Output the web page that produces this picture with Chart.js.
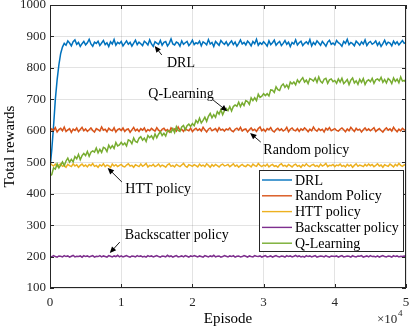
<!DOCTYPE html>
<html lang="en">
<head>
<meta charset="UTF-8">
<title>Total rewards vs Episode</title>
<script src="https://cdn.jsdelivr.net/npm/chart.js"></script>
<style>
  html, body { margin: 0; padding: 0; background: #fff; }
  #chart { display: block; }
</style>
</head>
<body>
<canvas id="chart" width="409" height="327"></canvas>
<script>
// episodes sampled every 250, x axis shown in units of 10^4
var episodeStep = 250;
var xTicks = [0, 1, 2, 3, 4, 5];
var yTicks = [100, 200, 300, 400, 500, 600, 700, 800, 900, 1000];

var seriesNames = ["DRL", "Random Policy", "HTT policy", "Backscatter policy", "Q-Learning"];
var seriesColors = ["#0072BD", "#D95319", "#EDB120", "#7E2F8E", "#77AC30"];

var drl = [
  480, 540, 615, 700, 762, 810, 846, 866, 878, 872, 886, 879, 870, 883, 889, 875, 881, 868, 877, 884,
  873, 880, 891, 876, 869, 882, 878, 885, 871, 879, 887, 874, 880, 868, 883, 876, 890, 872, 881, 877,
  884, 870, 878, 886, 875, 881, 869, 879, 888, 874, 882, 877, 871, 885, 880, 873, 889, 876, 868, 883,
  879, 875, 887, 872, 881, 884, 870, 878, 892, 876, 873, 882, 879, 869, 886, 875, 880, 884, 871, 878,
  888, 874, 880, 877, 885, 870, 883, 879, 873, 890, 876, 881, 868, 884, 878, 872, 887, 880, 875, 883,
  871, 879, 886, 874, 882, 869, 878, 889, 876, 881, 873, 885, 879, 870, 884, 877, 891, 872, 880, 875,
  883, 877, 869, 886, 874, 880, 888, 872, 879, 884, 871, 878, 887, 875, 882, 868, 881, 876, 889, 873,
  880, 885, 871, 878, 883, 876, 890, 870, 881, 874, 886, 879, 872, 884, 877, 869, 882, 888, 875, 879,
  873, 887, 880, 876, 869, 884, 878, 891, 874, 881, 877, 870, 885, 879, 872, 883, 876, 889, 871, 880,
  884, 875, 879, 886, 872, 881, 868, 877, 888, 874, 882, 879, 870, 885, 876, 883, 873, 880, 887, 878,
  881
];
var randomPolicy = [
  599, 606, 601, 610, 596, 604, 608, 600, 612, 598, 603, 607, 595, 605, 601, 609, 597, 604, 611, 600,
  606, 598, 603, 609, 601, 596, 607, 604, 599, 612, 602, 605, 597, 608, 603, 600, 610, 596, 604, 607,
  601, 609, 598, 604, 606, 595, 603, 611, 600, 605, 598, 607, 602, 609, 597, 604, 600, 608, 603, 599,
  610, 602, 597, 605, 608, 600, 604, 596, 609, 603, 606, 599, 612, 601, 605, 598, 607, 603, 600, 609,
  597, 604, 608, 601, 606, 599, 611, 603, 596, 605, 609, 600, 604, 607, 598, 610, 602, 605, 599, 606,
  603, 609, 600, 597, 605, 608, 602, 611, 599, 604, 606, 596, 603, 609, 601, 605, 598, 607, 612, 600,
  605, 598, 607, 603, 610, 600, 596, 604, 608, 601, 606, 599, 603, 611, 597, 605, 609, 602, 600, 607,
  598, 606, 602, 609, 604, 597, 605, 600, 612, 603, 599, 607, 601, 605, 596, 608, 603, 610, 600, 604,
  607, 601, 599, 605, 609, 603, 597, 606, 600, 611, 604, 598, 608, 602, 605, 596, 603, 609, 601, 606,
  600, 605, 610, 598, 603, 607, 601, 596, 604, 609, 602, 606, 599, 611, 603, 597, 605, 600, 608, 603,
  602
];
var httPolicy = [
  497, 492, 488, 494, 486, 491, 495, 487, 490, 484, 493, 489, 486, 495, 488, 492, 484, 490, 494, 487,
  491, 485, 493, 489, 496, 487, 490, 484, 492, 488, 495, 486, 491, 489, 483, 494, 488, 492, 486, 490,
  493, 487, 485, 491, 495, 488, 490, 484, 492, 489, 486, 494, 487, 491, 496, 485, 490, 488, 493, 486,
  489, 494, 486, 491, 488, 484, 492, 495, 487, 490, 485, 493, 489, 486, 491, 496, 488, 484, 492, 490,
  487, 492, 489, 485, 494, 488, 491, 486, 495, 490, 484, 492, 487, 493, 489, 485, 491, 494, 488, 490,
  493, 486, 490, 495, 487, 491, 484, 489, 493, 488, 486, 492, 490, 485, 494, 489, 487, 496, 490, 486,
  491, 488, 494, 485, 490, 493, 487, 489, 484, 492, 495, 488, 490, 486, 493, 489, 485, 491, 494, 487,
  490, 484, 492, 488, 495, 489, 486, 491, 493, 487, 490, 485, 494, 488, 491, 496, 486, 490, 489, 493,
  486, 491, 489, 494, 487, 490, 485, 493, 488, 492, 484, 490, 495, 487, 491, 489, 486, 493, 488, 494,
  489, 493, 486, 490, 495, 488, 491, 484, 492, 489, 487, 494, 490, 485, 493, 488, 496, 490, 487, 492,
  490
];
var backscatterPolicy = [
  201, 199, 203, 200, 198, 202, 201, 199, 203, 200, 202, 198, 201, 204, 199, 201, 200, 202, 198, 203,
  200, 202, 199, 201, 203, 198, 201, 200, 203, 199, 202, 200, 198, 203, 201, 199, 202, 200, 204, 199,
  202, 199, 201, 203, 200, 198, 202, 201, 199, 203, 200, 202, 199, 201, 198, 203, 200, 202, 199, 201,
  203, 200, 198, 202, 201, 199, 204, 200, 202, 198, 201, 203, 199, 200, 202, 199, 203, 201, 198, 202,
  200, 203, 201, 199, 202, 200, 198, 203, 201, 199, 202, 200, 204, 199, 201, 202, 198, 200, 203, 201,
  199, 202, 200, 203, 198, 201, 202, 199, 200, 203, 201, 198, 202, 200, 199, 203, 201, 200, 202, 198,
  201, 203, 199, 200, 202, 198, 201, 203, 200, 199, 202, 201, 198, 203, 200, 202, 199, 201, 204, 200,
  202, 199, 201, 198, 203, 200, 202, 199, 201, 203, 198, 200, 202, 201, 199, 203, 200, 198, 202, 201,
  200, 202, 198, 201, 203, 199, 200, 202, 201, 198, 203, 200, 199, 202, 201, 203, 198, 200, 202, 199,
  203, 200, 201, 199, 202, 198, 201, 203, 200, 199, 202, 201, 198, 203, 200, 202, 199, 201, 200, 202,
  201
];
var qLearning = [
  456, 461, 482, 478, 495, 482, 491, 501, 489, 504, 513, 500, 509, 501, 518, 511, 525, 508, 521, 528,
  521, 534, 519, 532, 536, 532, 545, 530, 541, 531, 547, 544, 534, 554, 544, 553, 544, 563, 552, 555,
  563, 555, 561, 552, 571, 568, 559, 577, 566, 563, 576, 581, 570, 577, 566, 585, 578, 584, 574, 590,
  578, 589, 597, 585, 592, 583, 600, 599, 595, 607, 594, 613, 601, 598, 612, 617, 603, 616, 621, 614,
  623, 616, 633, 625, 640, 625, 633, 643, 630, 646, 655, 641, 651, 643, 661, 653, 667, 651, 664, 671,
  664, 677, 663, 677, 682, 678, 691, 677, 689, 680, 696, 693, 684, 705, 696, 705, 696, 716, 706, 710,
  718, 712, 718, 711, 730, 729, 722, 740, 731, 728, 743, 749, 738, 746, 735, 755, 749, 755, 746, 762,
  753, 762, 769, 755, 761, 750, 766, 763, 758, 768, 754, 771, 757, 752, 764, 767, 751, 762, 765, 756,
  760, 751, 765, 755, 767, 750, 756, 763, 747, 761, 768, 752, 759, 748, 764, 754, 766, 747, 758, 762,
  756, 767, 751, 762, 765, 759, 770, 754, 763, 752, 766, 761, 750, 768, 757, 764, 753, 771, 758, 760,
  754
];

// text labels with arrows, in data units (x in 10^4 episodes)
var notes = [
  { text: "DRL",                x: 1.84, y: 816, from: [1.57, 841], to: [1.47, 870] },
  { text: "Q-Learning",         x: 1.84, y: 717, from: [2.29, 698], to: [2.49, 662] },
  { text: "Random policy",      x: 3.60, y: 539, from: [2.96, 564], to: [2.81, 593] },
  { text: "HTT policy",         x: 1.52, y: 415, from: [1.01, 437], to: [0.81, 482] },
  { text: "Backscatter policy", x: 1.78, y: 268, from: [0.98, 246], to: [0.84, 211] }
];

var serif = '"Liberation Serif", "Times New Roman", serif';
var axisColor = "#262626";

function toPoints(arr) {
  return arr.map(function (v, i) { return { x: i * episodeStep / 10000, y: v }; });
}

var allSeries = [drl, randomPolicy, httPolicy, backscatterPolicy, qLearning];
var datasets = allSeries.map(function (arr, k) {
  return {
    label: seriesNames[k],
    data: toPoints(arr),
    borderColor: seriesColors[k],
    backgroundColor: seriesColors[k],
    borderWidth: 1.5,
    pointRadius: 0,
    tension: 0,
    order: k === 4 ? 0 : 5 - k
  };
});

function drawArrow(ctx, x1, y1, x2, y2) {
  var ang = Math.atan2(y2 - y1, x2 - x1);
  var len = 7, half = 0.42;
  ctx.beginPath();
  ctx.moveTo(x1, y1);
  ctx.lineTo(x2 - Math.cos(ang) * 4, y2 - Math.sin(ang) * 4);
  ctx.stroke();
  ctx.beginPath();
  ctx.moveTo(x2, y2);
  ctx.lineTo(x2 - len * Math.cos(ang - half), y2 - len * Math.sin(ang - half));
  ctx.lineTo(x2 - len * Math.cos(ang + half), y2 - len * Math.sin(ang + half));
  ctx.closePath();
  ctx.fill();
}

var extrasPlugin = {
  id: "extras",
  afterDatasetsDraw: function (chart) {
    var ctx = chart.ctx;
    var a = chart.chartArea;
    var xs = chart.scales.x, ys = chart.scales.y;
    ctx.save();

    // box and inward ticks
    ctx.strokeStyle = axisColor;
    ctx.lineWidth = 1;
    ctx.strokeRect(a.left + 0.5, a.top + 0.5, a.right - a.left - 1, a.bottom - a.top - 1);
    ctx.beginPath();
    xTicks.forEach(function (t) {
      var px = Math.round(xs.getPixelForValue(t)) + 0.5;
      ctx.moveTo(px, a.bottom); ctx.lineTo(px, a.bottom - 4);
      ctx.moveTo(px, a.top); ctx.lineTo(px, a.top + 4);
    });
    yTicks.forEach(function (t) {
      var py = Math.round(ys.getPixelForValue(t)) + 0.5;
      ctx.moveTo(a.left, py); ctx.lineTo(a.left + 4, py);
      ctx.moveTo(a.right, py); ctx.lineTo(a.right - 4, py);
    });
    ctx.stroke();

    // annotations
    ctx.fillStyle = "#000";
    ctx.strokeStyle = "#000";
    ctx.lineWidth = 0.9;
    ctx.font = "14px " + serif;
    ctx.textAlign = "center";
    ctx.textBaseline = "middle";
    notes.forEach(function (n) {
      ctx.fillText(n.text, xs.getPixelForValue(n.x), ys.getPixelForValue(n.y));
      drawArrow(ctx,
        xs.getPixelForValue(n.from[0]), ys.getPixelForValue(n.from[1]),
        xs.getPixelForValue(n.to[0]), ys.getPixelForValue(n.to[1]));
    });

    // legend box, bottom right inside the axes
    var lx = 259, ly = 170, lw = 144, lh = 81;
    ctx.fillStyle = "#fff";
    ctx.fillRect(lx, ly, lw, lh);
    ctx.strokeStyle = axisColor;
    ctx.lineWidth = 1;
    ctx.strokeRect(lx + 0.5, ly + 0.5, lw, lh);
    ctx.textAlign = "left";
    seriesNames.forEach(function (name, k) {
      var yy = ly + 10 + k * 15.8;
      ctx.strokeStyle = seriesColors[k];
      ctx.lineWidth = 1.4;
      ctx.beginPath();
      ctx.moveTo(lx + 3, yy); ctx.lineTo(lx + 33, yy);
      ctx.stroke();
      ctx.fillStyle = "#000";
      ctx.fillText(name, lx + 36, yy + 1);
    });

    // axis titles
    ctx.fillStyle = "#000";
    ctx.font = "15px " + serif;
    ctx.textAlign = "center";
    ctx.fillText("Episode", (a.left + a.right) / 2, 319);
    ctx.save();
    ctx.translate(10, (a.top + a.bottom) / 2);
    ctx.rotate(-Math.PI / 2);
    ctx.fillText("Total rewards", 0, 0);
    ctx.restore();

    // x10^4 multiplier
    ctx.fillStyle = axisColor;
    ctx.font = "13px " + serif;
    ctx.textAlign = "left";
    ctx.fillText("\u00d710", 377, 320);
    ctx.font = "9px " + serif;
    ctx.fillText("4", 398, 314);
    ctx.restore();
  }
};

var chart = new Chart(document.getElementById("chart").getContext("2d"), {
  type: "line",
  data: { datasets: datasets },
  options: {
    responsive: false,
    animation: false,
    devicePixelRatio: 1,
    layout: { padding: { left: 0, right: 3, top: 5, bottom: 0 } },
    plugins: { legend: { display: false }, tooltip: { enabled: false } },
    scales: {
      x: {
        type: "linear",
        min: 0, max: 5,
        afterBuildTicks: function (s) { s.ticks = xTicks.map(function (v) { return { value: v }; }); },
        ticks: {
          color: axisColor, font: { family: serif, size: 13 }, padding: 7, maxRotation: 0,
          callback: function (v) { return String(v); }
        },
        grid: { color: "rgba(38,38,38,0.13)", drawTicks: false },
        border: { display: false },
        afterFit: function (s) { s.height = 39; s.paddingLeft = 0; s.paddingRight = 0; }
      },
      y: {
        type: "linear",
        min: 100, max: 1000,
        afterBuildTicks: function (s) { s.ticks = yTicks.map(function (v) { return { value: v }; }); },
        ticks: {
          color: axisColor, font: { family: serif, size: 13 }, padding: 4,
          callback: function (v) { return String(v); }
        },
        grid: { color: "rgba(38,38,38,0.13)", drawTicks: false },
        border: { display: false },
        afterFit: function (s) { s.width = 50; s.paddingTop = 0; s.paddingBottom = 0; }
      }
    }
  },
  plugins: [extrasPlugin]
});
</script>
</body>
</html>
